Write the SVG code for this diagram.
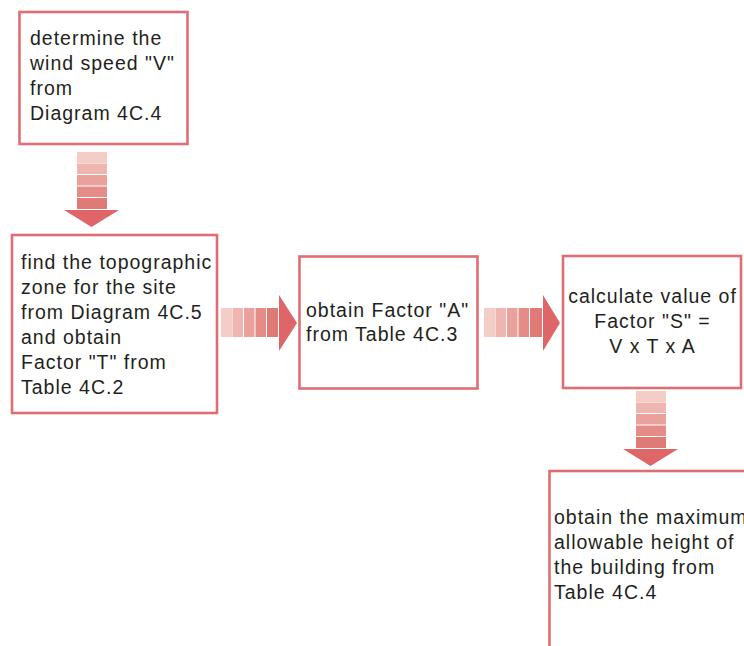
<svg xmlns="http://www.w3.org/2000/svg" width="744" height="646" viewBox="0 0 744 646">
<style>
.box{fill:#fff;stroke:#e06d71;stroke-width:2.6}
.t{font-family:"Liberation Sans",Arial,sans-serif;font-size:19.5px;letter-spacing:1px;fill:#231f20}
.s1{fill:#f4cdc7}.s2{fill:#efb5b1}.s3{fill:#eaa19c}.s4{fill:#e58c88}.s5{fill:#e07a77}.hd{fill:#de6568}
</style>
<rect width="744" height="646" fill="#fff"/>
<g id="connectors">
<g id="arrow1">
<rect class="s1" x="77" y="152" width="30" height="11"/>
<rect class="s2" x="77" y="163.5" width="30" height="10.5"/>
<rect class="s3" x="77" y="175" width="30" height="10.5"/>
<rect class="s4" x="77" y="186.5" width="30" height="10.5"/>
<rect class="s5" x="77" y="198" width="30" height="11"/>
<polygon class="hd" points="64,210 119,210 91.5,227"/>
</g>
<g id="arrow2">
<rect class="s1" x="221" y="308" width="11" height="29"/>
<rect class="s2" x="232.5" y="308" width="10.5" height="29"/>
<rect class="s3" x="244" y="308" width="10.5" height="29"/>
<rect class="s4" x="255.5" y="308" width="10.5" height="29"/>
<rect class="s5" x="267" y="308" width="11" height="29"/>
<polygon class="hd" points="279,295 279,351 297,323"/>
</g>
<g id="arrow3">
<rect class="s1" x="484" y="308" width="11" height="29"/>
<rect class="s2" x="495.5" y="308" width="10.5" height="29"/>
<rect class="s3" x="507" y="308" width="10.5" height="29"/>
<rect class="s4" x="518.5" y="308" width="10.5" height="29"/>
<rect class="s5" x="530" y="308" width="12" height="29"/>
<polygon class="hd" points="543,295 543,351 560,323"/>
</g>
<g id="arrow4">
<rect class="s1" x="636" y="391" width="30" height="11"/>
<rect class="s2" x="636" y="402.5" width="30" height="10.5"/>
<rect class="s3" x="636" y="414" width="30" height="10.5"/>
<rect class="s4" x="636" y="425.5" width="30" height="10.5"/>
<rect class="s5" x="636" y="437" width="30" height="11"/>
<polygon class="hd" points="623,449 678,449 650.5,466"/>
</g>
</g>
<g id="node1">
<rect class="box" x="19.5" y="12" width="168" height="132"/>
<text class="t" x="30" y="45">determine the</text>
<text class="t" x="30" y="70">wind speed "V"</text>
<text class="t" x="30" y="95">from</text>
<text class="t" x="30" y="120">Diagram 4C.4</text>
</g>
<g id="node2">
<rect class="box" x="12" y="235" width="205" height="178"/>
<text class="t" x="21" y="269">find the topographic</text>
<text class="t" x="21" y="294">zone for the site</text>
<text class="t" x="21" y="319">from Diagram 4C.5</text>
<text class="t" x="21" y="344">and obtain</text>
<text class="t" x="21" y="369">Factor "T" from</text>
<text class="t" x="21" y="394">Table 4C.2</text>
</g>
<g id="node3">
<rect class="box" x="299.5" y="256.5" width="178" height="132"/>
<text class="t" x="306" y="317">obtain Factor "A"</text>
<text class="t" x="306" y="341">from Table 4C.3</text>
</g>
<g id="node4">
<rect class="box" x="563" y="256" width="178" height="132"/>
<text class="t" x="652.5" y="303" text-anchor="middle">calculate value of</text>
<text class="t" x="652.5" y="328" text-anchor="middle">Factor "S" =</text>
<text class="t" x="652.5" y="353" text-anchor="middle">V x T x A</text>
</g>
<g id="node5">
<rect class="box" x="549.5" y="471" width="220" height="200"/>
<text class="t" x="554" y="524">obtain the maximum</text>
<text class="t" x="554" y="549">allowable height of</text>
<text class="t" x="554" y="574">the building from</text>
<text class="t" x="554" y="599">Table 4C.4</text>
</g>
</svg>
